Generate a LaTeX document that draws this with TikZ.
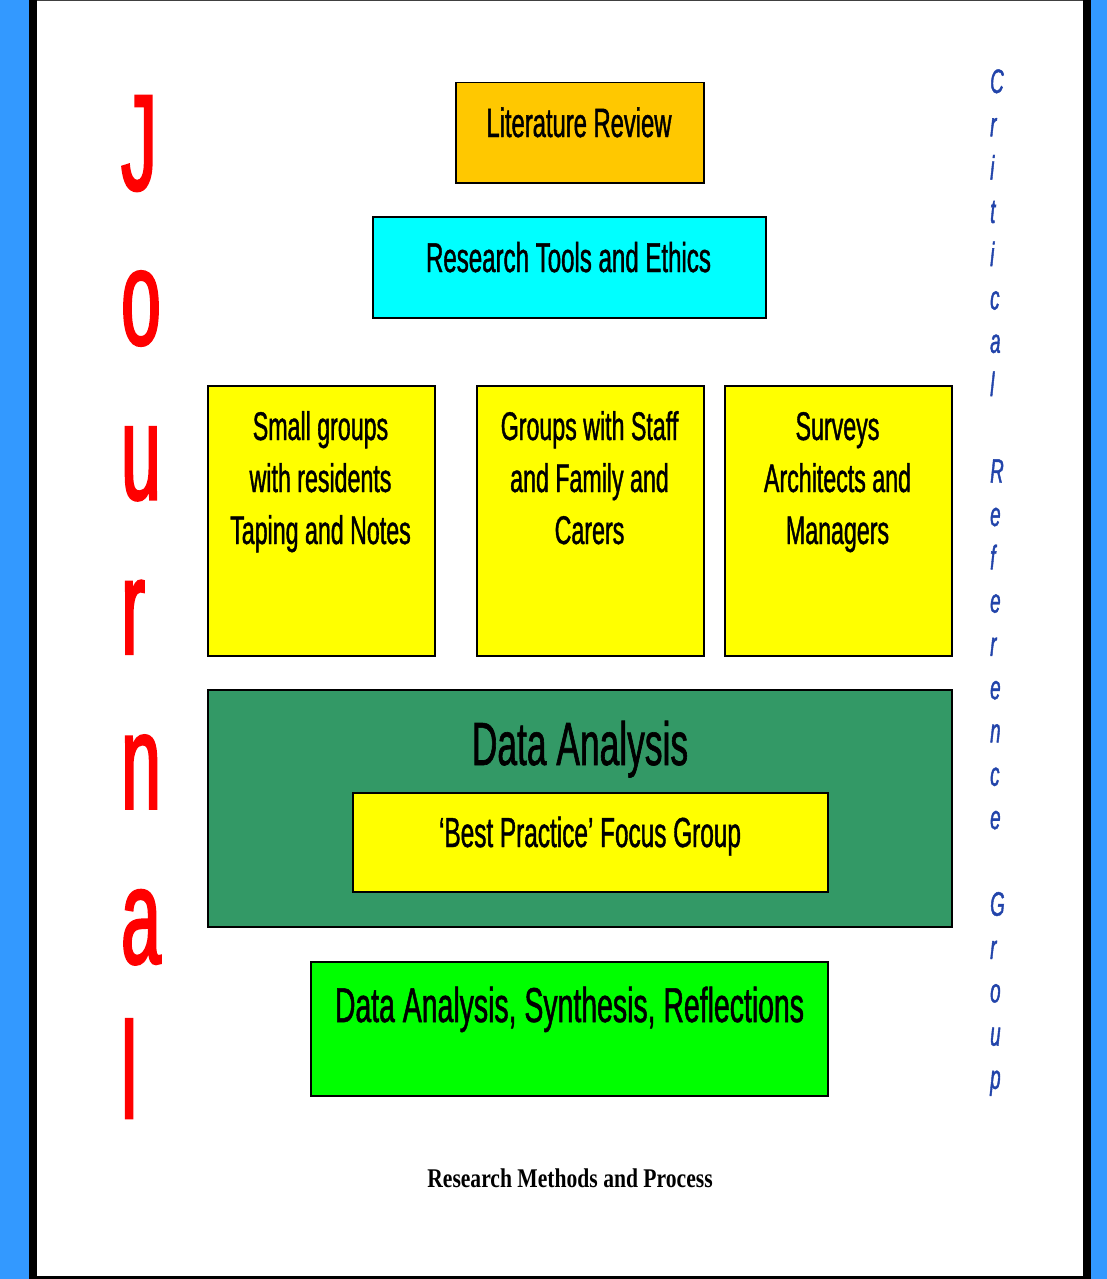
\documentclass[tikz,border=0pt]{standalone}
\usepackage{fontspec}
\newfontfamily\nar[FakeStretch=0.58,FakeBold=1]{Liberation Sans}
\newfontfamily\narj[FakeStretch=0.52,FakeBold=1.6]{Liberation Sans}
\newfontfamily\nari[FakeStretch=0.55,FakeBold=1.2]{Liberation Sans}
\newfontfamily\capfont[FakeStretch=0.8]{Liberation Serif}
\definecolor{sidebl}{HTML}{3399FF}
\definecolor{litcol}{HTML}{FFC800}
\definecolor{toolcol}{HTML}{00FFFF}
\definecolor{yel}{HTML}{FFFF00}
\definecolor{dgreen}{HTML}{339966}
\definecolor{lime}{HTML}{00FF00}
\definecolor{jred}{HTML}{FF0000}
\definecolor{crgblue}{HTML}{2244AA}
\begin{document}
\begin{tikzpicture}[x=1pt,y=-1pt,
  box/.style={draw=black,line width=1.5pt,inner sep=0pt,anchor=north west},
  txt/.style={inner sep=0pt,anchor=base,text=black},
  jlet/.style={inner sep=0pt,anchor=base west,text=jred,font=\narj\fontsize{137}{137}\selectfont},
  clet/.style={inner sep=0pt,anchor=base west,text=crgblue,font=\nari\itshape\fontsize{34}{34}\selectfont}]
\useasboundingbox (0,0) rectangle (1107,1279);
\fill[white] (0,0) rectangle (1107,1279);
\fill[sidebl] (0,0) rectangle (29,1279);
\fill[black] (29,0) rectangle (37,1279);
\fill[black] (1083,0) rectangle (1091,1279);
\fill[sidebl] (1091,0) rectangle (1107,1279);
\fill[black!75] (37,0) rectangle (1083,1.5);
\fill[black] (37,1276) rectangle (1083,1279);
% boxes
\node[box,fill=litcol,minimum width=248pt,minimum height=100pt] (lit) at (455,82) {};
\node[box,fill=toolcol,minimum width=393pt,minimum height=101pt] (tools) at (372,216) {};
\node[box,fill=yel,minimum width=227pt,minimum height=270pt] (small) at (207,385) {};
\node[box,fill=yel,minimum width=227pt,minimum height=270pt] (staff) at (476,385) {};
\node[box,fill=yel,minimum width=227pt,minimum height=270pt] (surv) at (724,385) {};
\node[box,fill=dgreen,minimum width=744pt,minimum height=237pt] (da) at (207,689) {};
\node[box,fill=yel,minimum width=475pt,minimum height=99pt] (bp) at (352,792) {};
\node[box,fill=lime,minimum width=517pt,minimum height=134pt] (dasr) at (310,961) {};
% texts
\node[txt,font=\nar\fontsize{41}{41}\selectfont] (littxt) at (579,137) {Literature Review};
\node[txt,font=\nar\fontsize{41.5}{41}\selectfont] (tooltxt) at (568.5,272) {Research Tools and Ethics};
\node[txt,font=\nar\fontsize{40}{39}\selectfont] (s1) at (320.5,440) {Small groups};
\node[txt,font=\nar\fontsize{40}{39}\selectfont] (s2) at (320.5,492) {with residents};
\node[txt,font=\nar\fontsize{40}{39}\selectfont] (s3) at (320.5,544) {Taping and Notes};
\node[txt,font=\nar\fontsize{40}{39}\selectfont] (g1) at (589.5,440) {Groups with Staff};
\node[txt,font=\nar\fontsize{40}{39}\selectfont] (g2) at (589.5,492) {and Family and};
\node[txt,font=\nar\fontsize{40}{39}\selectfont] (g3) at (589.5,544) {Carers};
\node[txt,font=\nar\fontsize{40}{39}\selectfont] (v1) at (837.5,440) {Surveys};
\node[txt,font=\nar\fontsize{40}{39}\selectfont] (v2) at (837.5,492) {Architects and};
\node[txt,font=\nar\fontsize{40}{39}\selectfont] (v3) at (837.5,544) {Managers};
\node[txt,font=\nar\fontsize{61}{61}\selectfont] (datxt) at (580,765) {Data Analysis};
\node[txt,font=\nar\fontsize{42}{42}\selectfont] (bptxt) at (590,847) {‘Best Practice’ Focus Group};
\node[txt,font=\nar\fontsize{49}{49}\selectfont] (dasrtxt) at (569.5,1022) {Data Analysis, Synthesis, Reflections};
\node[txt,font=\capfont\bfseries\fontsize{27}{27}\selectfont] (cap) at (570,1187) {Research Methods and Process};
% Journal
\foreach \l [count=\i from 0] in {J,o,u,r,n,a,l}
  \node[jlet] (j\i) at (121,{190+154.7*\i}) {\l};
% Critical Reference Group
\foreach \l [count=\i from 0] in {C,r,i,t,i,c,a,l,{},R,e,f,e,r,e,n,c,e,{},G,r,o,u,p}
  \node[clet] (c\i) at (990,{93+43.3*\i}) {\l};
\end{tikzpicture}
\end{document}
